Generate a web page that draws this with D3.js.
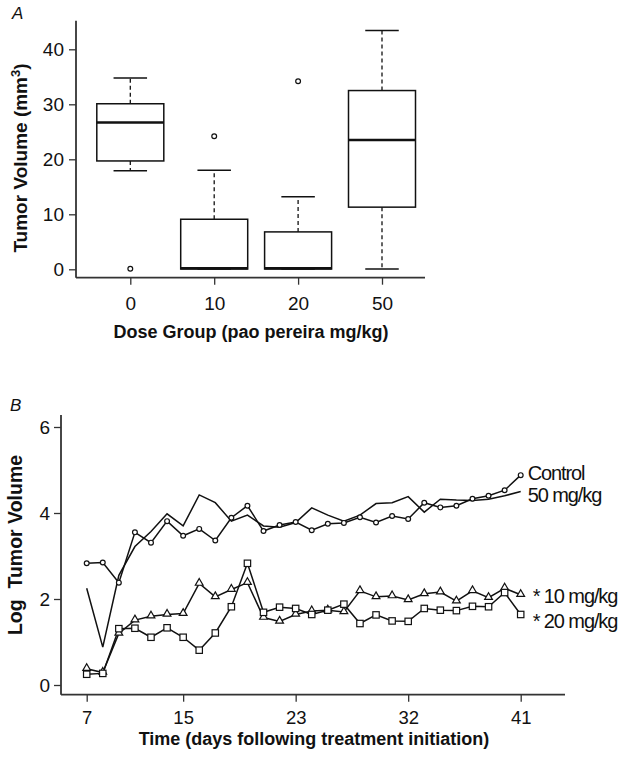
<!DOCTYPE html>
<html><head><meta charset="utf-8">
<script src="https://cdn.jsdelivr.net/npm/d3@7"></script>
<style>
body{margin:0;background:#fff;}
svg{display:block;font-family:"Liberation Sans",Arial,Helvetica,sans-serif;}
</style></head>
<body>
<script>
// ---------- Panel A data (box plot) ----------
const doseGroups   = ["0", "10", "20", "50"];
const whiskerLow   = [17.9, 0.05, 0.05, 0.05];
const quartile1    = [19.7, 0.05, 0.05, 11.3];
const medians      = [26.7, 0.2, 0.2, 23.5];
const quartile3    = [30.1, 9.1, 6.8, 32.5];
const whiskerHigh  = [34.8, 18.0, 13.2, 43.4];
const outliers     = [[0.1], [24.2], [34.2], []];
const yTicksA      = [0, 10, 20, 30, 40];

// ---------- Panel B data (time course) ----------
const timeTickIndex  = [0, 6, 13, 20, 27];
const timeTickLabels = ["7", "15", "23", "32", "41"];
const yTicksB        = [0, 2, 4, 6];
const controlSeries = [2.83,2.85,2.38,3.55,3.31,3.81,3.47,3.63,3.36,3.89,4.17,3.58,3.72,3.79,3.60,3.75,3.77,3.90,3.78,3.93,3.86,4.24,4.13,4.17,4.33,4.40,4.53,4.88];
const mg50Series    = [2.25,0.88,2.55,3.22,3.57,3.98,3.70,4.42,4.24,3.81,3.95,3.70,3.67,3.78,4.12,3.95,3.81,3.95,4.22,4.24,4.38,4.02,4.32,4.30,4.29,4.32,4.40,4.50];
const mg10Series    = [0.38,0.29,1.20,1.51,1.60,1.64,1.66,2.36,2.05,2.22,2.38,1.57,1.48,1.64,1.72,1.74,1.70,2.19,2.05,2.07,1.98,2.12,2.16,1.95,2.19,2.03,2.25,2.10];
const mg20Series    = [0.25,0.27,1.31,1.32,1.11,1.33,1.11,0.81,1.21,1.82,2.83,1.69,1.81,1.78,1.64,1.74,1.88,1.43,1.63,1.49,1.48,1.78,1.74,1.73,1.83,1.82,2.15,1.64];
const seriesLabels  = ["Control", "50 mg/kg", "* 10 mg/kg", "* 20 mg/kg"];

const W = 625, H = 763;
const svg = d3.select("body").append("svg").attr("width", W).attr("height", H);
const ink = "#111";
const axisCol = "#333";
const FONT = "Liberation Sans, Arial, sans-serif";

function styleAxis(ax, size) {
  ax.select(".domain").remove();
  ax.selectAll("line").attr("stroke", axisCol).attr("stroke-width", 1.3);
  ax.selectAll("text").style("font-size", size + "px").style("font-family", FONT).attr("fill", ink);
}

// ================= Panel A =================
const gA = svg.append("g");
const xA = d3.scalePoint().domain(doseGroups).range([130.3, 382]);
const yA = d3.scaleLinear().domain([0, 40]).range([269.3, 49.3]);
const boxW = 67;

gA.append("line").attr("x1", 76).attr("x2", 76).attr("y1", 20.7).attr("y2", 277.7)
  .attr("stroke", axisCol).attr("stroke-width", 1.8);
gA.append("line").attr("x1", 76).attr("x2", 425).attr("y1", 277.7).attr("y2", 277.7)
  .attr("stroke", axisCol).attr("stroke-width", 1.8);

const axYA = gA.append("g").attr("transform", "translate(76,0)")
  .call(d3.axisLeft(yA).tickValues(yTicksA).tickSize(7).tickPadding(5));
styleAxis(axYA, 19);

const axXA = gA.append("g").attr("transform", "translate(0,277.7)")
  .call(d3.axisBottom(xA).tickSize(7).tickPadding(12));
styleAxis(axXA, 19);

doseGroups.forEach((g, i) => {
  const cx = xA(g);
  const grp = gA.append("g");
  grp.append("line").attr("x1", cx).attr("x2", cx).attr("y1", yA(quartile3[i])).attr("y2", yA(whiskerHigh[i]))
    .attr("stroke", ink).attr("stroke-width", 1.3).attr("stroke-dasharray", "4,3");
  grp.append("line").attr("x1", cx).attr("x2", cx).attr("y1", yA(quartile1[i])).attr("y2", yA(whiskerLow[i]))
    .attr("stroke", ink).attr("stroke-width", 1.3).attr("stroke-dasharray", "4,3");
  [whiskerHigh[i], whiskerLow[i]].forEach(v => {
    grp.append("line").attr("x1", cx - boxW / 4).attr("x2", cx + boxW / 4).attr("y1", yA(v)).attr("y2", yA(v))
      .attr("stroke", ink).attr("stroke-width", 1.5);
  });
  grp.append("rect").attr("x", cx - boxW / 2).attr("width", boxW)
    .attr("y", yA(quartile3[i])).attr("height", yA(quartile1[i]) - yA(quartile3[i]))
    .attr("fill", "#fff").attr("stroke", ink).attr("stroke-width", 1.5);
  grp.append("line").attr("x1", cx - boxW / 2).attr("x2", cx + boxW / 2).attr("y1", yA(medians[i])).attr("y2", yA(medians[i]))
    .attr("stroke", ink).attr("stroke-width", 2.4);
  outliers[i].forEach(v => {
    grp.append("circle").attr("cx", cx).attr("cy", yA(v)).attr("r", 2.4)
      .attr("fill", "#fff").attr("stroke", ink).attr("stroke-width", 1.2);
  });
});

gA.append("text").attr("transform", "translate(27,158) rotate(-90)").attr("text-anchor", "middle")
  .style("font-size", "19px").attr("font-weight", "bold").attr("fill", ink)
  .html('Tumor Volume (mm<tspan dy="-7" font-size="13">3</tspan><tspan dy="7">)</tspan>');
gA.append("text").attr("x", 251).attr("y", 338).attr("text-anchor", "middle")
  .style("font-size", "18px").attr("font-weight", "bold").attr("fill", ink)
  .text("Dose Group (pao pereira mg/kg)");
gA.append("text").attr("x", 12).attr("y", 19).style("font-size", "17px").attr("font-style", "italic").attr("fill", ink).text("A");

// ================= Panel B =================
const gB = svg.append("g");
const xB = d3.scaleLinear().domain([0, 27]).range([86.7, 520.7]);
const yB = d3.scaleLinear().domain([0, 6]).range([685, 427]);

gB.append("line").attr("x1", 61).attr("x2", 61).attr("y1", 415).attr("y2", 694.7)
  .attr("stroke", axisCol).attr("stroke-width", 1.8);
gB.append("line").attr("x1", 61).attr("x2", 565).attr("y1", 694.7).attr("y2", 694.7)
  .attr("stroke", axisCol).attr("stroke-width", 1.8);

const axYB = gB.append("g").attr("transform", "translate(61,0)")
  .call(d3.axisLeft(yB).tickValues(yTicksB).tickFormat(d3.format("d")).tickSize(7).tickPadding(4));
styleAxis(axYB, 19);

const axXB = gB.append("g").attr("transform", "translate(0,694.7)")
  .call(d3.axisBottom(xB).tickValues(timeTickIndex).tickFormat((d, i) => timeTickLabels[i]).tickSize(7).tickPadding(9));
styleAxis(axXB, 18.5);

const line = d3.line().x((d, i) => xB(i)).y(d => yB(d));
const allSeries = [mg50Series, controlSeries, mg10Series, mg20Series];
allSeries.forEach(s => {
  gB.append("path").datum(s).attr("d", line).attr("fill", "none")
    .attr("stroke", ink).attr("stroke-width", 1.5).attr("stroke-linejoin", "miter");
});

gB.selectAll(".ctl").data(controlSeries).enter().append("circle")
  .attr("cx", (d, i) => xB(i)).attr("cy", d => yB(d)).attr("r", 2.4)
  .attr("fill", "#fff").attr("stroke", ink).attr("stroke-width", 1.2);
const triPath = d3.symbol().type(d3.symbolTriangle).size(26);
gB.selectAll(".tri").data(mg10Series).enter().append("path")
  .attr("d", triPath).attr("transform", (d, i) => `translate(${xB(i)},${yB(d) - 0.5})`)
  .attr("fill", "#fff").attr("stroke", ink).attr("stroke-width", 1.2);
gB.selectAll(".sq").data(mg20Series).enter().append("rect")
  .attr("x", (d, i) => xB(i) - 3.2).attr("y", d => yB(d) - 3.2).attr("width", 6.4).attr("height", 6.4)
  .attr("fill", "#fff").attr("stroke", ink).attr("stroke-width", 1.2);

const last = controlSeries.length - 1;
const labelY = [yB(controlSeries[last]) + 5, yB(mg50Series[last]) + 10, yB(mg10Series[last]) + 8.5, yB(mg20Series[last]) + 13.5];
const labelX = [xB(last) + 7, xB(last) + 7, xB(last) + 12, xB(last) + 12];
seriesLabels.forEach((t, i) => {
  gB.append("text").attr("x", labelX[i]).attr("y", labelY[i]).style("font-size", "20px").attr("fill", ink)
    .attr("letter-spacing", -1.1).text(t);
});

gB.append("text").attr("transform", "translate(22,545) rotate(-90)").attr("text-anchor", "middle")
  .style("font-size", "19.5px").attr("font-weight", "bold").attr("fill", ink)
  .style("white-space", "pre").text("Log  Tumor Volume");
gB.append("text").attr("x", 314).attr("y", 745).attr("text-anchor", "middle")
  .style("font-size", "18px").attr("font-weight", "bold").attr("fill", ink)
  .text("Time (days following treatment initiation)");
gB.append("text").attr("x", 10).attr("y", 411).style("font-size", "17px").attr("font-style", "italic").attr("fill", ink).text("B");
</script>
</body></html>
